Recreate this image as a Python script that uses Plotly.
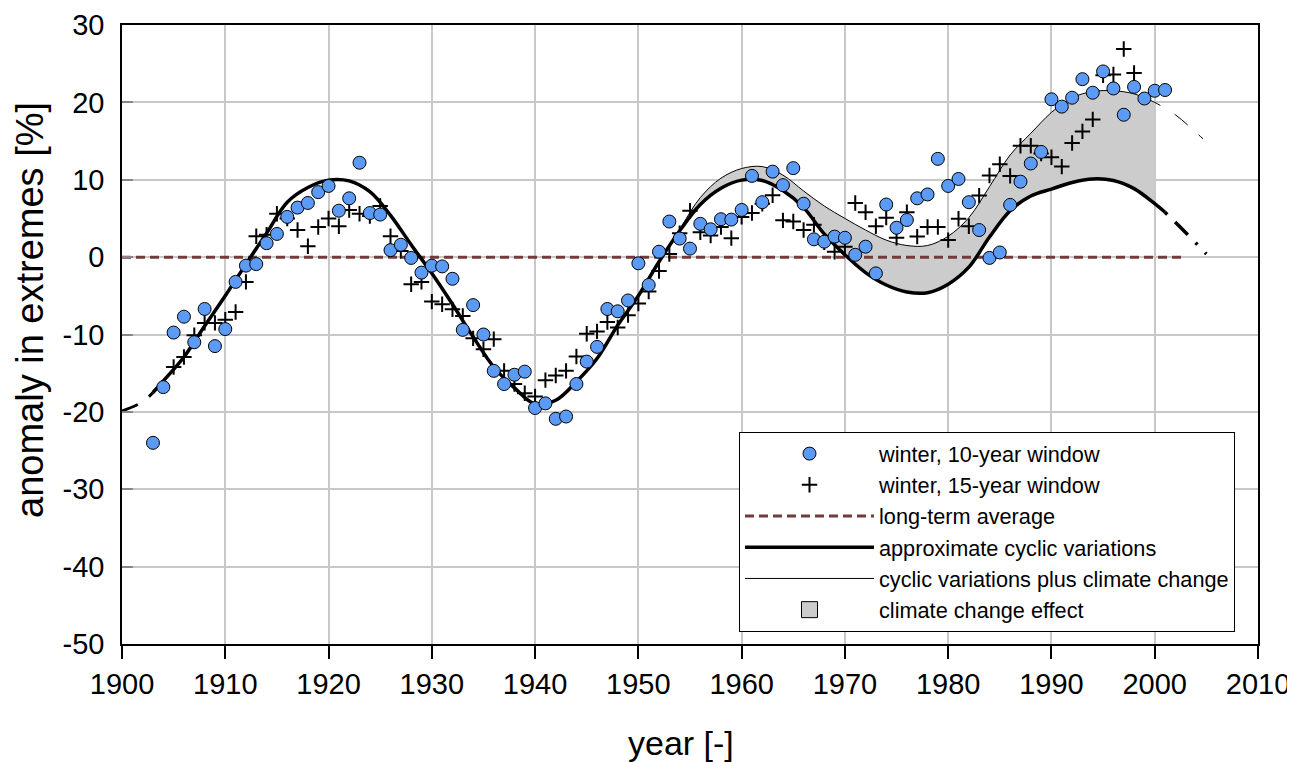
import plotly.graph_objects as go

# ---------------- data ----------------
YEARS_10 = list(range(1903, 2002))
WINTER_10 = [
    -24.0, -16.8, -9.75, -7.7, -11.0, -6.7, -11.5,            # 1903-1909
    -9.3, -3.2, -1.1, -0.9, 1.8, 3.0, 5.2, 6.4, 7.0, 8.4,     # 1910-1919
    9.2, 6.0, 7.6, 12.2, 5.7, 5.5, 0.9, 1.6, -0.1, -2.0,      # 1920-1929
    -1.1, -1.2, -2.8, -9.4, -6.2, -10.0, -14.7, -16.4, -15.2, -14.8,   # 1930-1939
    -19.5, -18.9, -20.9, -20.6, -16.4, -13.5, -11.6, -6.7, -7.0, -5.6, # 1940-1949
    -0.8, -3.6, 0.7, 4.6, 2.4, 1.1, 4.3, 3.6, 4.9, 4.85,      # 1950-1959
    6.1, 10.5, 7.1, 11.05, 9.3, 11.5, 6.9, 2.3, 2.0, 2.65,    # 1960-1969
    2.5, 0.3, 1.35, -2.1, 6.8, 3.8, 4.8, 7.6, 8.1, 12.7,      # 1970-1979
    9.2, 10.1, 7.1, 3.5, -0.1, 0.6, 6.75, 9.75, 12.1, 13.6,   # 1980-1989
    20.4, 19.45, 20.6, 23.0, 21.25, 24.0, 21.8, 18.4, 22.0, 20.5,  # 1990-1999
    21.5, 21.6,                                               # 2000-2001
]

YEARS_15 = list(range(1905, 1999))
WINTER_15 = [
    -14.2, -12.9, -10.1, -8.5, -8.5,                          # 1905-1909
    -8.1, -7.1, -3.2, 2.7, 2.9, 5.6, 5.0, 3.5, 1.4, 3.9,      # 1910-1919
    5.0, 4.0, 6.1, 5.6, 5.3, 6.6, 2.7, 0.8, -3.5, -3.2,       # 1920-1929
    -5.75, -6.1, -6.75, -7.6, -10.5, -11.9, -10.6, -14.7, -16.4, -17.6,  # 1930-1939
    -18.0, -15.9, -15.3, -14.7, -12.85, -9.9, -9.6, -8.4, -9.1, -7.5,    # 1940-1949
    -6.0, -4.45, -1.8, 0.4, 3.1, 6.0, 3.2, 2.8, 3.9, 2.45,    # 1950-1959
    5.2, 5.7, 6.9, 8.0, 4.75, 4.6, 3.5, 4.2, 1.9, 0.7,        # 1960-1969
    1.35, 7.0, 5.8, 4.0, 5.1, 2.5, 5.8, 2.65, 3.9, 3.9,       # 1970-1979
    2.2, 4.95, 4.0, 7.95, 10.55, 12.0, 10.5, 14.4, 14.4, 13.4,  # 1980-1989
    12.9, 11.7, 14.75, 16.25, 17.8, 23.5, 23.6, 26.9, 23.8,   # 1990-1998
]

AVG_YEARS = [1900, 2003]
AVG_VALUES = [0, 0]

# approximate cyclic variations (thick curve)
CYC_YEARS = [1900, 1902, 1903, 1904, 1906, 1908, 1910, 1912, 1914, 1916, 1918,
             1920, 1922, 1924, 1926, 1928, 1930, 1932, 1934, 1936, 1938,
             1940, 1942, 1944, 1946, 1948, 1950, 1952, 1954, 1956, 1958,
             1960, 1962, 1964, 1966, 1968, 1970, 1972, 1974, 1976, 1978,
             1980, 1982, 1984, 1986, 1988, 1990, 1992, 1994, 1996, 1998,
             2000, 2001, 2002, 2004, 2005]
CYC_VALUES = [-19.9, -18.7, -17.5, -16.0, -12.9, -8.9, -5.0, -0.9, 3.1, 7.1, 9.0,
              9.95, 9.85, 8.45, 5.4, 1.6, -2.1, -6.1, -10.3, -14.2, -16.9,
              -19.0, -18.5, -16.1, -13.1, -8.8, -5.0, -0.6, 3.4, 6.8, 8.9,
              9.95, 9.9, 8.6, 6.4, 3.0, 0.3, -2.0, -3.6, -4.5, -4.6,
              -3.5, -1.3, 2.6, 6.0, 7.9, 8.8, 9.65, 10.1, 9.9, 8.85,
              6.9, 5.8, 4.5, 1.8, 0.4]

# cyclic variations plus climate change (thin curve)
CC_YEARS = [1952, 1954, 1956, 1958, 1960, 1962, 1964, 1966, 1968, 1970,
            1972, 1974, 1976, 1978, 1980, 1982, 1984, 1986, 1988, 1990,
            1992, 1994, 1996, 1998, 2000, 2002, 2004, 2005]
CC_VALUES = [-0.6, 3.6, 7.7, 10.2, 11.45, 11.7, 10.6, 8.55, 6.6, 5.0,
             3.5, 2.2, 1.5, 1.5, 2.7, 5.1, 9.1, 13.2, 16.0, 18.7,
             20.6, 21.4, 21.5, 21.1, 20.0, 18.4, 16.1, 14.9]

CLIMATE_START, CLIMATE_END = 1952, 2000

X_TICKS = list(range(1900, 2011, 10))
Y_TICKS = list(range(-50, 31, 10))
Y_TICK_LABELS = [str(v) for v in Y_TICKS]


def segment(years, values, lo, hi):
    pts = [(y, v) for y, v in zip(years, values) if lo <= y <= hi]
    return [p[0] for p in pts], [p[1] for p in pts]


FONT = "Liberation Sans, Arial, sans-serif"
fig = go.Figure()

# climate change effect (filled band between the two curves)
lx, ly = segment(CYC_YEARS, CYC_VALUES, CLIMATE_START, CLIMATE_END)
ux, uy = segment(CC_YEARS, CC_VALUES, CLIMATE_START, CLIMATE_END)
fig.add_trace(go.Scatter(x=lx, y=ly, mode="lines", line=dict(width=0, shape="spline"),
                         showlegend=False, hoverinfo="skip"))
fig.add_trace(go.Scatter(x=ux, y=uy, mode="lines", fill="tonexty", fillcolor="#cccccc",
                         line=dict(width=0, shape="spline"), showlegend=False, hoverinfo="skip"))

# long-term average
fig.add_trace(go.Scatter(x=AVG_YEARS, y=AVG_VALUES, mode="lines", name="long-term average",
                         line=dict(color="#733a3a", width=3, dash="9px,5px"), legendrank=3))

# approximate cyclic variations
x0, y0 = segment(CYC_YEARS, CYC_VALUES, 1900, 1903)
fig.add_trace(go.Scatter(x=x0, y=y0, mode="lines", showlegend=False,
                         line=dict(color="black", width=3, dash="17px,14px", shape="spline")))
x1, y1 = segment(CYC_YEARS, CYC_VALUES, 1903, 2001)
fig.add_trace(go.Scatter(x=x1, y=y1, mode="lines", name="approximate cyclic variations",
                         line=dict(color="black", width=3.5, shape="spline"), legendrank=4))
x2, y2 = segment(CYC_YEARS, CYC_VALUES, 2001, 2005)
fig.add_trace(go.Scatter(x=x2, y=y2, mode="lines", showlegend=False,
                         line=dict(color="black", width=3.5, dash="3px,11px,18px,11px", shape="spline")))

# cyclic variations plus climate change
x3, y3 = segment(CC_YEARS, CC_VALUES, CLIMATE_START, CLIMATE_END)
fig.add_trace(go.Scatter(x=x3, y=y3, mode="lines", name="cyclic variations plus climate change",
                         line=dict(color="black", width=1, shape="spline"), legendrank=5))
x4, y4 = segment(CC_YEARS, CC_VALUES, CLIMATE_END, 2005)
fig.add_trace(go.Scatter(x=x4, y=y4, mode="lines", showlegend=False,
                         line=dict(color="black", width=1, dash="6px,17px,17px,15px", shape="spline")))

# 15-year window
fig.add_trace(go.Scatter(x=YEARS_15, y=WINTER_15, mode="markers", name="winter, 15-year window",
                         marker=dict(symbol="cross-thin", size=11, color="black",
                                     line=dict(color="black", width=2)), legendrank=2))
# 10-year window
fig.add_trace(go.Scatter(x=YEARS_10, y=WINTER_10, mode="markers", name="winter, 10-year window",
                         marker=dict(symbol="circle", size=13, color="#5b9bf5",
                                     line=dict(color="black", width=1)), legendrank=1))
# legend entry for the band
fig.add_trace(go.Scatter(x=[None], y=[None], mode="markers", name="climate change effect",
                         marker=dict(symbol="square", size=18, color="#cccccc",
                                     line=dict(color="black", width=1)), legendrank=6))

# page body has an 8px margin: figure pixel = page pixel - 8
OFF = 8
W, H = 1295 - OFF, 762 - OFF
L, T = 122 - OFF, 25 - OFF
R, B = W - (1258 - OFF), H - (644 - OFF)
PW, PH = W - L - R, H - T - B


def px(xp):  # page pixel -> paper x
    return (xp - OFF - L) / PW


def py(yp):  # page pixel -> paper y
    return (H - B - (yp - OFF)) / PH


shapes = [
    dict(type="rect", xref="paper", yref="paper", x0=px(1289), x1=px(1295), y0=py(762), y1=py(8),
         fillcolor="#3162ad", line=dict(width=0), layer="above"),
]

fig.update_layout(
    width=W, height=H,
    margin=dict(l=L, r=R, t=T, b=B, autoexpand=False),
    paper_bgcolor="white", plot_bgcolor="white",
    font=dict(family=FONT, color="black"),
    showlegend=True,
    legend=dict(x=px(739), y=py(432), xanchor="left", yanchor="top",
                bgcolor="white", bordercolor="black", borderwidth=1,
                font=dict(size=21.7, family=FONT, color="black"),
                itemwidth=129, traceorder="normal", tracegroupgap=0),
    shapes=shapes,
    annotations=[
        dict(text="year [-]", xref="paper", yref="paper", x=px(681), y=py(743),
             xanchor="center", yanchor="middle", showarrow=False, font=dict(size=34)),
        dict(text="anomaly in extremes [%]", xref="paper", yref="paper", x=px(30), y=py(310),
             xanchor="center", yanchor="middle", textangle=-90, showarrow=False,
             font=dict(size=38)),
    ],
)
fig.update_xaxes(range=[1900, 2010], tickvals=X_TICKS, ticks="outside", ticklen=13,
                 tickwidth=1.5, tickcolor="black", showgrid=True, gridcolor="#c8c8c8",
                 gridwidth=1.5, showline=True, linecolor="black", linewidth=1.5, mirror=True,
                 zeroline=False, tickfont=dict(size=29, family=FONT))
fig.update_yaxes(range=[-50, 30], tickvals=Y_TICKS, ticktext=Y_TICK_LABELS, ticks="inside",
                 ticklen=11, tickwidth=1.5, tickcolor="#888888", showgrid=True,
                 gridcolor="#c8c8c8", gridwidth=1.5, showline=True, linecolor="black",
                 linewidth=1.5, mirror=True, zeroline=False, ticklabelstandoff=10,
                 tickfont=dict(size=29, family=FONT))

fig.write_html("out.html")
